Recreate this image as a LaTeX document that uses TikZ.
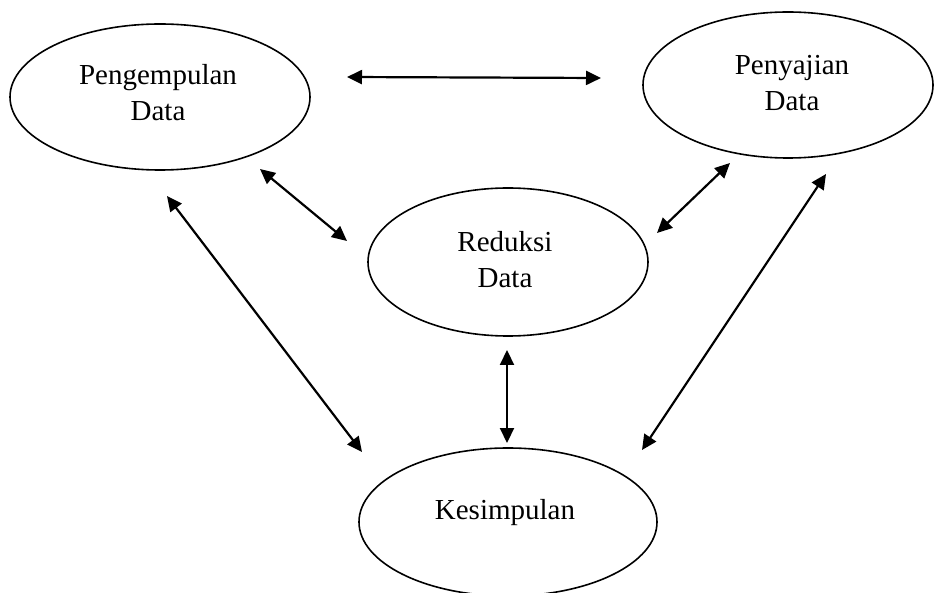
\documentclass[tikz,border=0pt]{standalone}
\usepackage{fontspec}
\setmainfont{Liberation Serif}
\usetikzlibrary{shapes.geometric,arrows.meta}
\begin{document}
\begin{tikzpicture}[x=1pt,y=-1pt,
  oval/.style={draw,ellipse,line width=1.6pt,inner sep=0pt},
  lbl/.style={align=center,font=\fontsize{29}{36}\selectfont,inner sep=0pt},
  link/.style={line width=2.2pt,{Triangle[length=15pt,width=14pt]}-{Triangle[length=15pt,width=14pt]}}]
\useasboundingbox (0,0) rectangle (934,593);
% ellipses
\node[oval,minimum width=300pt,minimum height=146pt] (peng) at (160,97) {};
\node[oval,minimum width=290pt,minimum height=146pt] (peny) at (788,85) {};
\node[oval,minimum width=280pt,minimum height=148pt] (red) at (508,262) {};
\node[oval,minimum width=298pt,minimum height=148pt] (kes) at (508,522) {};
% labels
\node[lbl] (tpeng) at (158,93) {Pengempulan\\Data};
\node[lbl] (tpeny) at (792,83) {Penyajian\\Data};
\node[lbl] (tred) at (505,260) {Reduksi\\Data};
\node[lbl] (tkes) at (505,513) {Kesimpulan};
% arrow ends
\coordinate (a1) at (347,77);  \coordinate (a2) at (601,78);
\coordinate (b1) at (260,169); \coordinate (b2) at (347,241);
\coordinate (c1) at (167,196); \coordinate (c2) at (362,452);
\coordinate (d1) at (657,233); \coordinate (d2) at (730,163);
\coordinate (e1) at (642,450); \coordinate (e2) at (826,174);
\coordinate (f1) at (507,350); \coordinate (f2) at (507,443);
% connectors
\draw[link] (a1) -- (a2);
\draw[link] (b1) -- (b2);
\draw[link] (c1) -- (c2);
\draw[link] (d1) -- (d2);
\draw[link] (e1) -- (e2);
\draw[link] (f1) -- (f2);
\end{tikzpicture}
\end{document}
